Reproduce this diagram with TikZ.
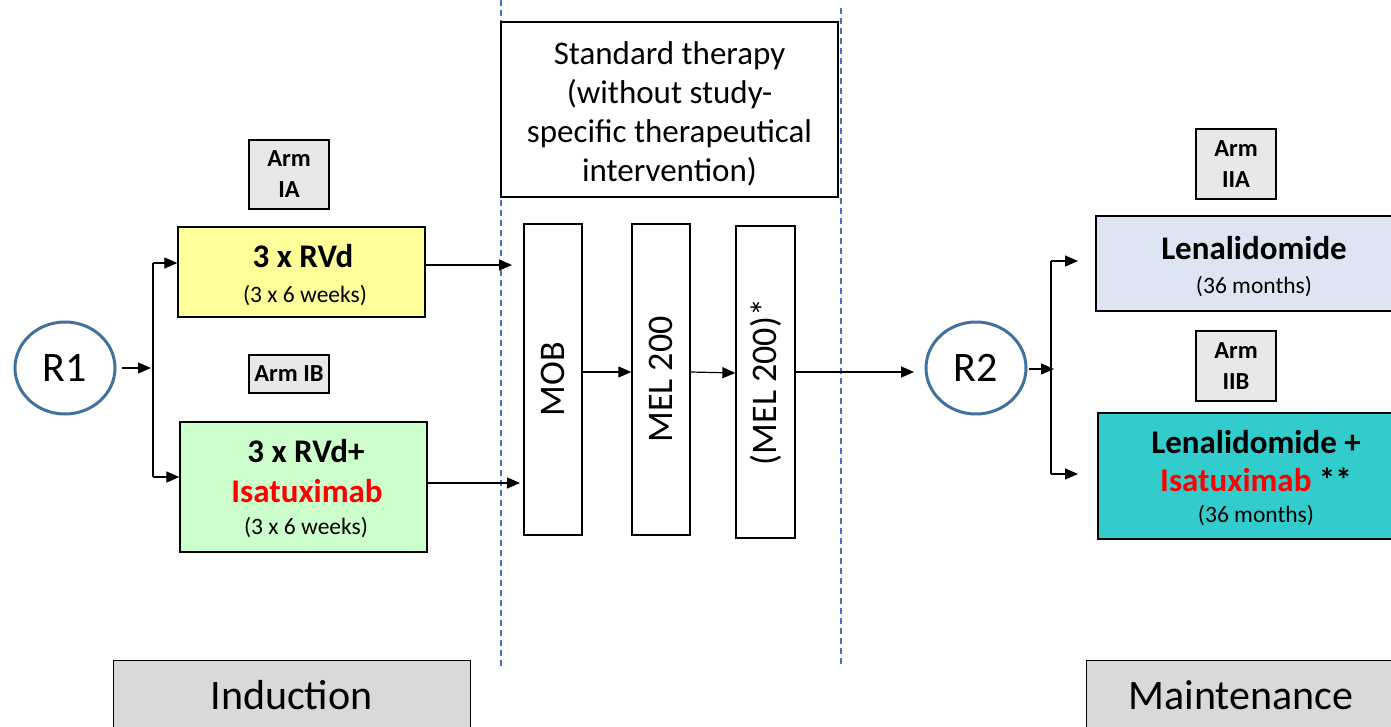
\documentclass[tikz,border=0pt]{standalone}
\usepackage{fontspec}
\setmainfont{Carlito}
\usetikzlibrary{arrows.meta,shapes.geometric}
\definecolor{cyel}{HTML}{FFFF99}
\definecolor{cgrn}{HTML}{CCFFCC}
\definecolor{cblu}{HTML}{DCE5F1}
\definecolor{cteal}{HTML}{33CCCC}
\definecolor{carm}{HTML}{E8E8E8}
\definecolor{cphase}{HTML}{D9D9D9}
\definecolor{cring}{HTML}{41719C}
\definecolor{cdash}{HTML}{4472C4}
\definecolor{cred}{HTML}{FF0000}
\begin{document}
\begin{tikzpicture}[x=1pt,y=-1pt,
  box/.style={draw=black,line width=1.3pt,inner sep=0pt,anchor=center},
  armbox/.style={box,fill=carm,align=center,font=\fontsize{24.5}{31}\selectfont\bfseries},
  ring/.style={ellipse,draw=cring,line width=3pt,inner sep=0pt,minimum width=100pt,minimum height=92pt,font=\fontsize{42}{48}\selectfont},
  arr/.style={line width=1.2pt,-{Triangle[length=13pt,width=11pt]}},
  ln/.style={line width=1.2pt},
  sep/.style={draw=cdash,line width=1.3pt,dash pattern=on 6pt off 4pt},
  big/.style={font=\fontsize{33}{38}\selectfont\bfseries},
  small/.style={font=\fontsize{23.5}{27}\selectfont},
  rot/.style={font=\fontsize{36}{40}\selectfont}
]
\useasboundingbox (0,0) rectangle (1391,726);
\clip (0,0) rectangle (1391,726);

% separators
\coordinate (s1t) at (501,0); \coordinate (s1b) at (501,666);
\coordinate (s2t) at (841,8); \coordinate (s2b) at (841,666);
\draw[sep] (s1t) -- (s1b);
\draw[sep] (s2t) -- (s2b);

% standard therapy
\node[box,minimum width=337pt,minimum height=175pt] (std) at (669.5,109.5) {};
\node[align=center,font=\fontsize{33}{39}\selectfont] (stdt) at (669.5,113.5) {Standard therapy\\(without study-\\specific therapeutical\\intervention)};

% R1 and induction arms
\node[ring] (r1) at (65,368) {R1};
\node[armbox,minimum width=80pt,minimum height=69pt] (arm1a) at (289,174.5) {Arm\\IA};
\node[armbox,minimum width=80pt,minimum height=38pt] (arm1b) at (289,374) {Arm IB};
\node[box,fill=cyel,minimum width=247pt,minimum height=90pt] (ya) at (301.5,272) {};
\node[big] (yat1) at (303,256) {3 x RVd};
\node[small] (yat2) at (305,296) {(3 x 6 weeks)};
\node[box,fill=cgrn,minimum width=247pt,minimum height=130pt] (ga) at (303.5,487) {};
\node[big] (gat1) at (306,451) {3 x RVd+};
\node[big,text=cred] (gat2) at (307,491) {Isatuximab};
\node[small] (gat3) at (306,528) {(3 x 6 weeks)};

% standard therapy steps
\node[box,minimum width=58pt,minimum height=311pt,rot] (mob) at (553,379.5) {\rotatebox{90}{MOB}};
\node[box,minimum width=58pt,minimum height=311pt,rot] (mel) at (661,379.5) {\rotatebox{90}{MEL 200}};
\node[box,minimum width=59pt,minimum height=312pt,rot] (melx) at (765.5,382) {\rotatebox{90}{(MEL 200)*}};

% R2 and maintenance arms
\node[ring] (r2) at (976,368) {R2};
\node[armbox,minimum width=80pt,minimum height=70pt] (arm2a) at (1236,164) {Arm\\IIA};
\node[armbox,minimum width=80pt,minimum height=70pt] (arm2b) at (1236,366) {Arm\\IIB};
\node[box,fill=cblu,minimum width=316pt,minimum height=95pt] (len) at (1254,263.5) {};
\node[big] (lent1) at (1254,248) {Lenalidomide};
\node[small] (lent2) at (1254,287) {(36 months)};
\node[box,fill=cteal,minimum width=316pt,minimum height=126pt] (lis) at (1256,476) {};
\node[big] (list1) at (1256,442) {Lenalidomide +};
\node[big] (list2) at (1256,480) {\textcolor{cred}{Isatuximab} **};
\node[small] (list3) at (1256,516) {(36 months)};

% phases
\node[box,line width=1pt,fill=cphase,minimum width=357pt,minimum height=70pt,font=\fontsize{42}{48}\selectfont] (ind) at (291.5,695) {Induction};
\node[box,line width=1pt,fill=cphase,minimum width=310pt,minimum height=70pt,font=\fontsize{42}{48}\selectfont] (mnt) at (1241,695) {Maintenance};

% connectors: induction
\coordinate (r1o) at (122,368);
\coordinate (r1i) at (151,368);
\coordinate (b1t) at (153,263);
\coordinate (b1b) at (153,477);
\draw[arr] (r1o) -- (r1i);
\draw[ln] (b1t) -- (b1b);
\draw[arr] (b1t) -- (ya.west |- b1t);
\draw[arr] (b1b) -- (ga.west |- b1b);
\coordinate (yin) at (512,265);
\coordinate (gin) at (520,483);
\draw[arr] (ya.east |- yin) -- (yin);
\draw[arr] (ga.east |- gin) -- (gin);

% connectors: standard therapy
\coordinate (lev) at (0,372);
\coordinate (lev2) at (0,373);
\coordinate (r2i) at (914,372);
\draw[arr] (mob.east |- lev) -- (mel.west |- lev);
\draw[arr] (mel.east |- lev) -- (melx.west |- lev2);
\draw[arr] (melx.east |- lev) -- (r2i);

% connectors: maintenance
\coordinate (r2o) at (1029,369);
\coordinate (r2b) at (1054,369);
\coordinate (b2t) at (1051,261);
\coordinate (b2b) at (1051,474);
\coordinate (b2te) at (1078,261);
\coordinate (b2be) at (1078,474);
\draw[arr] (r2o) -- (r2b);
\draw[ln] (b2t) -- (b2b);
\draw[arr] (b2t) -- (b2te);
\draw[arr] (b2b) -- (b2be);
\end{tikzpicture}
\end{document}
